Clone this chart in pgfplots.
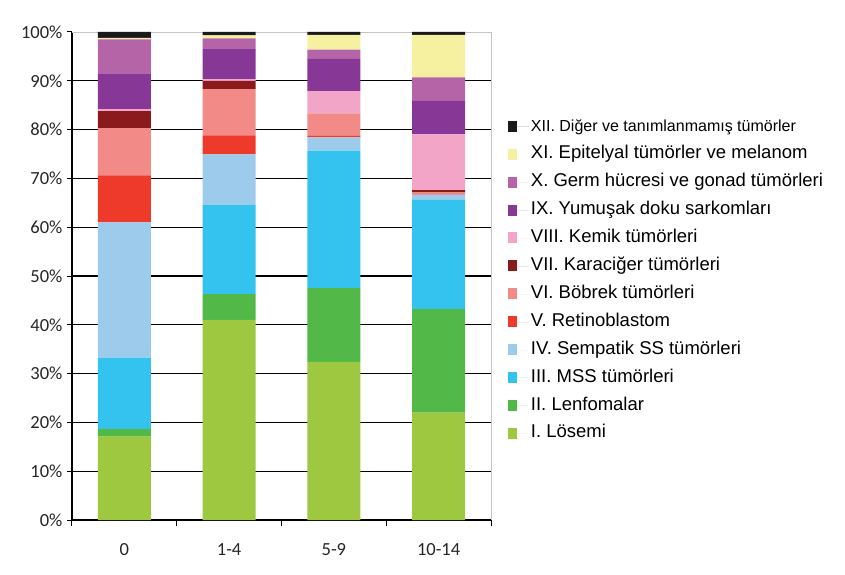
\documentclass[border=0pt]{standalone}
\usepackage{pgfplots}
\pgfplotsset{compat=1.18}
\usepackage{fontspec}
\setmainfont{Liberation Sans}
\newfontfamily\tickfont{Carlito}
\definecolor{cI}{HTML}{9DC83F}
\definecolor{cII}{HTML}{52B848}
\definecolor{cIII}{HTML}{33C3EE}
\definecolor{cIV}{HTML}{9DCBEB}
\definecolor{cV}{HTML}{EE3A2A}
\definecolor{cVI}{HTML}{F28B88}
\definecolor{cVII}{HTML}{8B1A1D}
\definecolor{cVIII}{HTML}{F3A5C8}
\definecolor{cIX}{HTML}{873795}
\definecolor{cX}{HTML}{B565A7}
\definecolor{cXI}{HTML}{F5F1A0}
\definecolor{cXII}{HTML}{1A1A1A}
\begin{document}
\begin{tikzpicture}
\begin{axis}[
  scale only axis,
  width=419pt, height=488pt,
  ybar stacked, bar width=53pt,
  xmin=-0.5, xmax=3.5, ymin=0, ymax=100,
  axis lines*=left,
  axis line style={black, line width=1.3pt},
  tick align=outside,
  xtick={0,1,2,3},
  xticklabels={0,1-4,5-9,10-14},
  major x tick style={draw=none},
  minor xtick={-0.5,0.5,1.5,2.5,3.5},
  minor x tick style={black, line width=1pt},
  minor tick length=6pt,
  extra x ticks={3.5},
  extra x tick labels={},
  extra x tick style={xmajorgrids, major grid style={gray!45, line width=0.8pt}, major tick length=0pt},
  ytick={0,10,...,90},
  extra y ticks={100},
  extra y tick style={ymajorgrids, major grid style={gray!45, line width=0.8pt}},
  ymajorgrids,
  major grid style={black, line width=1.3pt},
  major y tick style={black, line width=1pt},
  major tick length=5pt,
  /pgf/number format/assume math mode=true,
  yticklabel={\pgfmathprintnumber{\tick}\%},
  yticklabel style={font=\tickfont\fontsize{18.5}{19}\selectfont, xshift=-1pt, text=black!85},
  xticklabel style={font=\tickfont\fontsize{18.5}{19}\selectfont, yshift=-15pt, text=black!85},
  axis on top=false,
  legend cell align=left,
  reverse legend,
  legend style={at={(1.040,0.822)}, anchor=north west, draw=none, fill=none,
    inner sep=0pt, row sep=12.4pt,
    nodes={font=\fontsize{18.5}{19}\selectfont, text height=12pt, text depth=3.5pt, inner sep=0pt, inner xsep=2pt}},
  legend image code/.code={\fill[#1] (0pt,-5pt) rectangle (9pt,6pt); \path (0pt,0pt) -- (21pt,0pt);},
  every axis plot/.append style={draw=none},
]
\addplot[fill=cI] coordinates {(0,17.1) (1,41.0) (2,32.4) (3,22.0)};
\addplot[fill=cII] coordinates {(0,1.5) (1,5.3) (2,15.1) (3,21.2)};
\addplot[fill=cIII] coordinates {(0,14.7) (1,18.2) (2,28.2) (3,22.4)};
\addplot[fill=cIV] coordinates {(0,27.7) (1,10.4) (2,2.7) (3,1.1)};
\addplot[fill=cV] coordinates {(0,9.6) (1,3.9) (2,0.3) (3,0.2)};
\addplot[fill=cVI] coordinates {(0,9.7) (1,9.5) (2,4.6) (3,0.3)};
\addplot[fill=cVII] coordinates {(0,3.5) (1,1.7) (2,0.0) (3,0.4)};
\addplot[fill=cVIII] coordinates {(0,0.4) (1,0.3) (2,4.6) (3,11.4)};
\addplot[fill=cIX] coordinates {(0,7.3) (1,6.2) (2,6.6) (3,6.9)};
\addplot[fill=cX] coordinates {(0,7.0) (1,2.2) (2,1.9) (3,4.8)};
\addplot[fill=cXI] coordinates {(0,0.3) (1,0.6) (2,3.0) (3,8.7)};
\addplot[fill=cXII] coordinates {(0,1.2) (1,0.7) (2,0.6) (3,0.6)};
\legend{I. Lösemi, II. Lenfomalar, III. MSS tümörleri, IV. Sempatik SS tümörleri, V. Retinoblastom, VI. Böbrek tümörleri, VII. Karaciğer tümörleri, VIII. Kemik tümörleri, IX. Yumuşak doku sarkomları, X. Germ hücresi ve gonad tümörleri, XI. Epitelyal tümörler ve melanom, {\fontsize{16}{17}\selectfont XII. Diğer ve tanımlanmamış tümörler}}
\end{axis}
\path (-72pt,-54pt) rectangle (773pt,520pt);
\end{tikzpicture}
\end{document}
